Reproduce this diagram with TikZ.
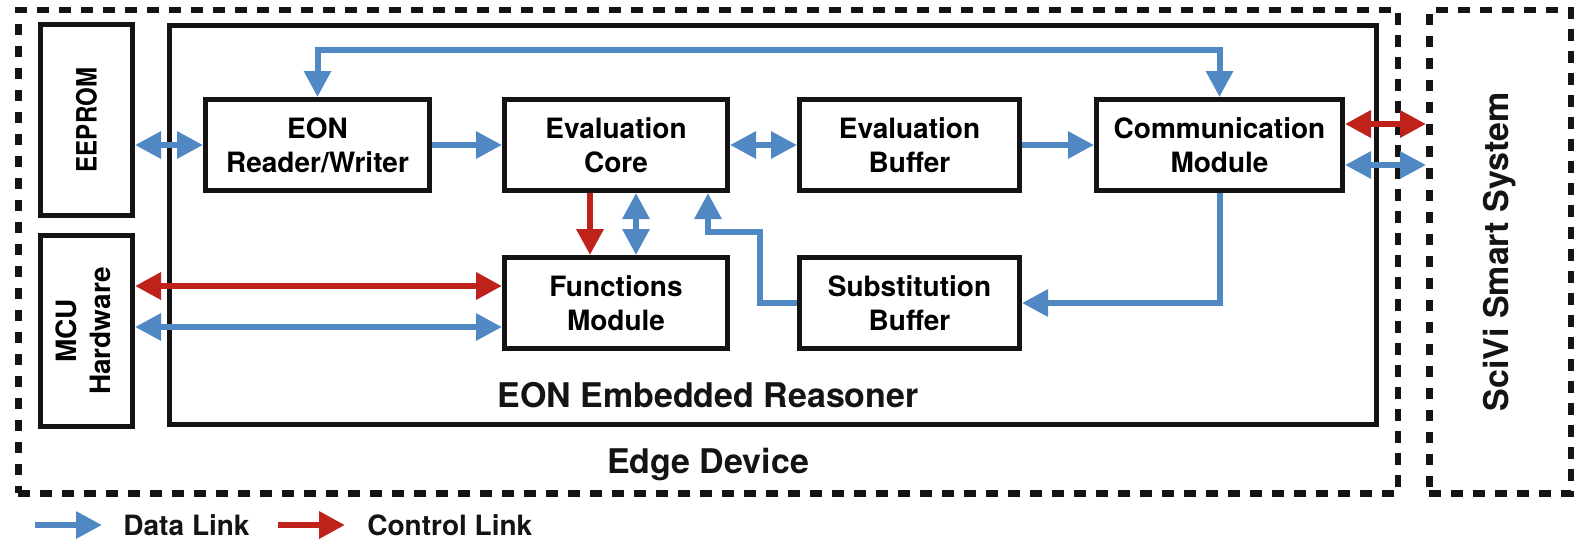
\documentclass[tikz,border=0pt]{standalone}
\usepackage{fontspec}
\setmainfont{TeX Gyre Heros}
\usepackage{graphicx}
\usepackage{tikz}
\definecolor{datablue}{RGB}{80, 136, 196}
\definecolor{ctrlred}{RGB}{190, 34, 26}
\definecolor{inkblack}{RGB}{20, 20, 20}
\usetikzlibrary{arrows.meta, positioning, calc}

\begin{document}
\begin{tikzpicture}[
    x=0.5pt, y=-0.5pt,
    >={Triangle[length=13pt, width=13pt]},
    module/.style={rectangle, draw=inkblack, line width=2.5pt, minimum width=111.5pt, minimum height=45.5pt, inner sep=0pt, align=center, font=\fontsize{14}{17}\selectfont\bfseries},
    sidebox/.style={rectangle, draw=inkblack, line width=2.5pt, minimum width=46pt, minimum height=95.5pt, inner sep=0pt, align=center, font=\fontsize{14}{17}\selectfont\bfseries},
    group/.style={rectangle, draw=inkblack, line width=3.25pt, dash pattern=on 5.8pt off 5.2pt, inner sep=0pt},
    title/.style={inner sep=0pt, font=\fontsize{17}{20}\selectfont\bfseries, text=inkblack},
    datalink/.style={draw=datablue, line width=3pt},
    ctrllink/.style={draw=ctrlred, line width=3.25pt}
]
    \useasboundingbox (0,0) rectangle (1592,548);

    % outer groups
    \node[group, minimum width=689.75pt, minimum height=241.65pt] (edge) at (708,251.7) {};
    \node[group, minimum width=70.75pt, minimum height=241.65pt, title] (scivi) at (1500,251.7) {\rotatebox{90}{SciVi Smart System}};
    \node[rectangle, draw=inkblack, line width=2.5pt, minimum width=603.5pt, minimum height=199.5pt] (reasoner) at (773,225) {};
    \node[title] (reasonerlabel) at (708,395) {EON Embedded Reasoner};
    \node[title, anchor=base] (edgelabel) at (708,473) {Edge Device};

    % side hardware
    \node[sidebox] (eeprom) at (86.5,120) {\rotatebox{90}{\scalebox{0.86}[1]{EEPROM}}};
    \node[sidebox] (mcu) at (86.5,331) {\rotatebox{90}{\begin{tabular}{@{}c@{}}MCU\\Hardware\end{tabular}}};

    % reasoner modules
    \node[module, minimum width=112pt] (reader) at (317.5,145) {EON\\Reader/Writer};
    \node[module] (core) at (616,145) {Evaluation\\Core};
    \node[module, minimum width=110pt] (evalbuf) at (909.5,145) {Evaluation\\Buffer};
    \node[module, minimum width=123pt] (comm) at (1219.5,145) {Communication\\Module};
    \node[module] (funcs) at (616,303) {Functions\\Module};
    \node[module, minimum width=110pt] (subst) at (909.5,303) {Substitution\\Buffer};

    % helper points
    \coordinate (loop) at (0,50);
    \coordinate (sc) at (708,232);
    \coordinate (cr) at ($(comm.east)+(0,-21)$);
    \coordinate (cb) at ($(comm.east)+(0,20)$);
    \coordinate (fr) at ($(core.south)+(-26,0)$);
    \coordinate (fb) at ($(core.south)+(20,0)$);
    \coordinate (mr) at ($(funcs.west)+(0,-17)$);
    \coordinate (mb) at ($(funcs.west)+(0,24)$);

    % data links
    \draw[datalink, <->] (reader.north) |- (comm.north |- loop) -- (comm.north);
    \draw[datalink, <->] (eeprom.east |- reader.west) -- (reader.west);
    \draw[datalink, ->] (reader) -- (core);
    \draw[datalink, <->] (core) -- (evalbuf);
    \draw[datalink, ->] (evalbuf) -- (comm);
    \draw[datalink, <->] (cb) -- (cb -| scivi.west);
    \draw[datalink, <->] (fb) -- (fb |- funcs.north);
    \draw[datalink, ->] (subst.west) -- ++(-37,0) |- (sc) -- (sc |- core.south);
    \draw[datalink, ->] (comm.south) |- (subst.east);
    \draw[datalink, <->] (mb -| mcu.east) -- (mb);

    % control links
    \draw[ctrllink, <->] (cr) -- (cr -| scivi.west);
    \draw[ctrllink, ->] (fr) -- (fr |- funcs.north);
    \draw[ctrllink, <->] (mr -| mcu.east) -- (mr);

    % legend
    \coordinate (keyd1) at (35,525);
    \coordinate (keyd2) at (102,525);
    \coordinate (keyc1) at (278,525);
    \coordinate (keyc2) at (345,525);
    \draw[datalink, ->] (keyd1) -- (keyd2);
    \draw[ctrllink, ->] (keyc1) -- (keyc2);
    \node[anchor=west, inner sep=0pt, font=\fontsize{14}{17}\selectfont\bfseries, text=inkblack] (keydata) at (123,525) {Data Link};
    \node[anchor=west, inner sep=0pt, font=\fontsize{14}{17}\selectfont\bfseries, text=inkblack] (keyctrl) at (367,525) {Control Link};
\end{tikzpicture}
\end{document}
